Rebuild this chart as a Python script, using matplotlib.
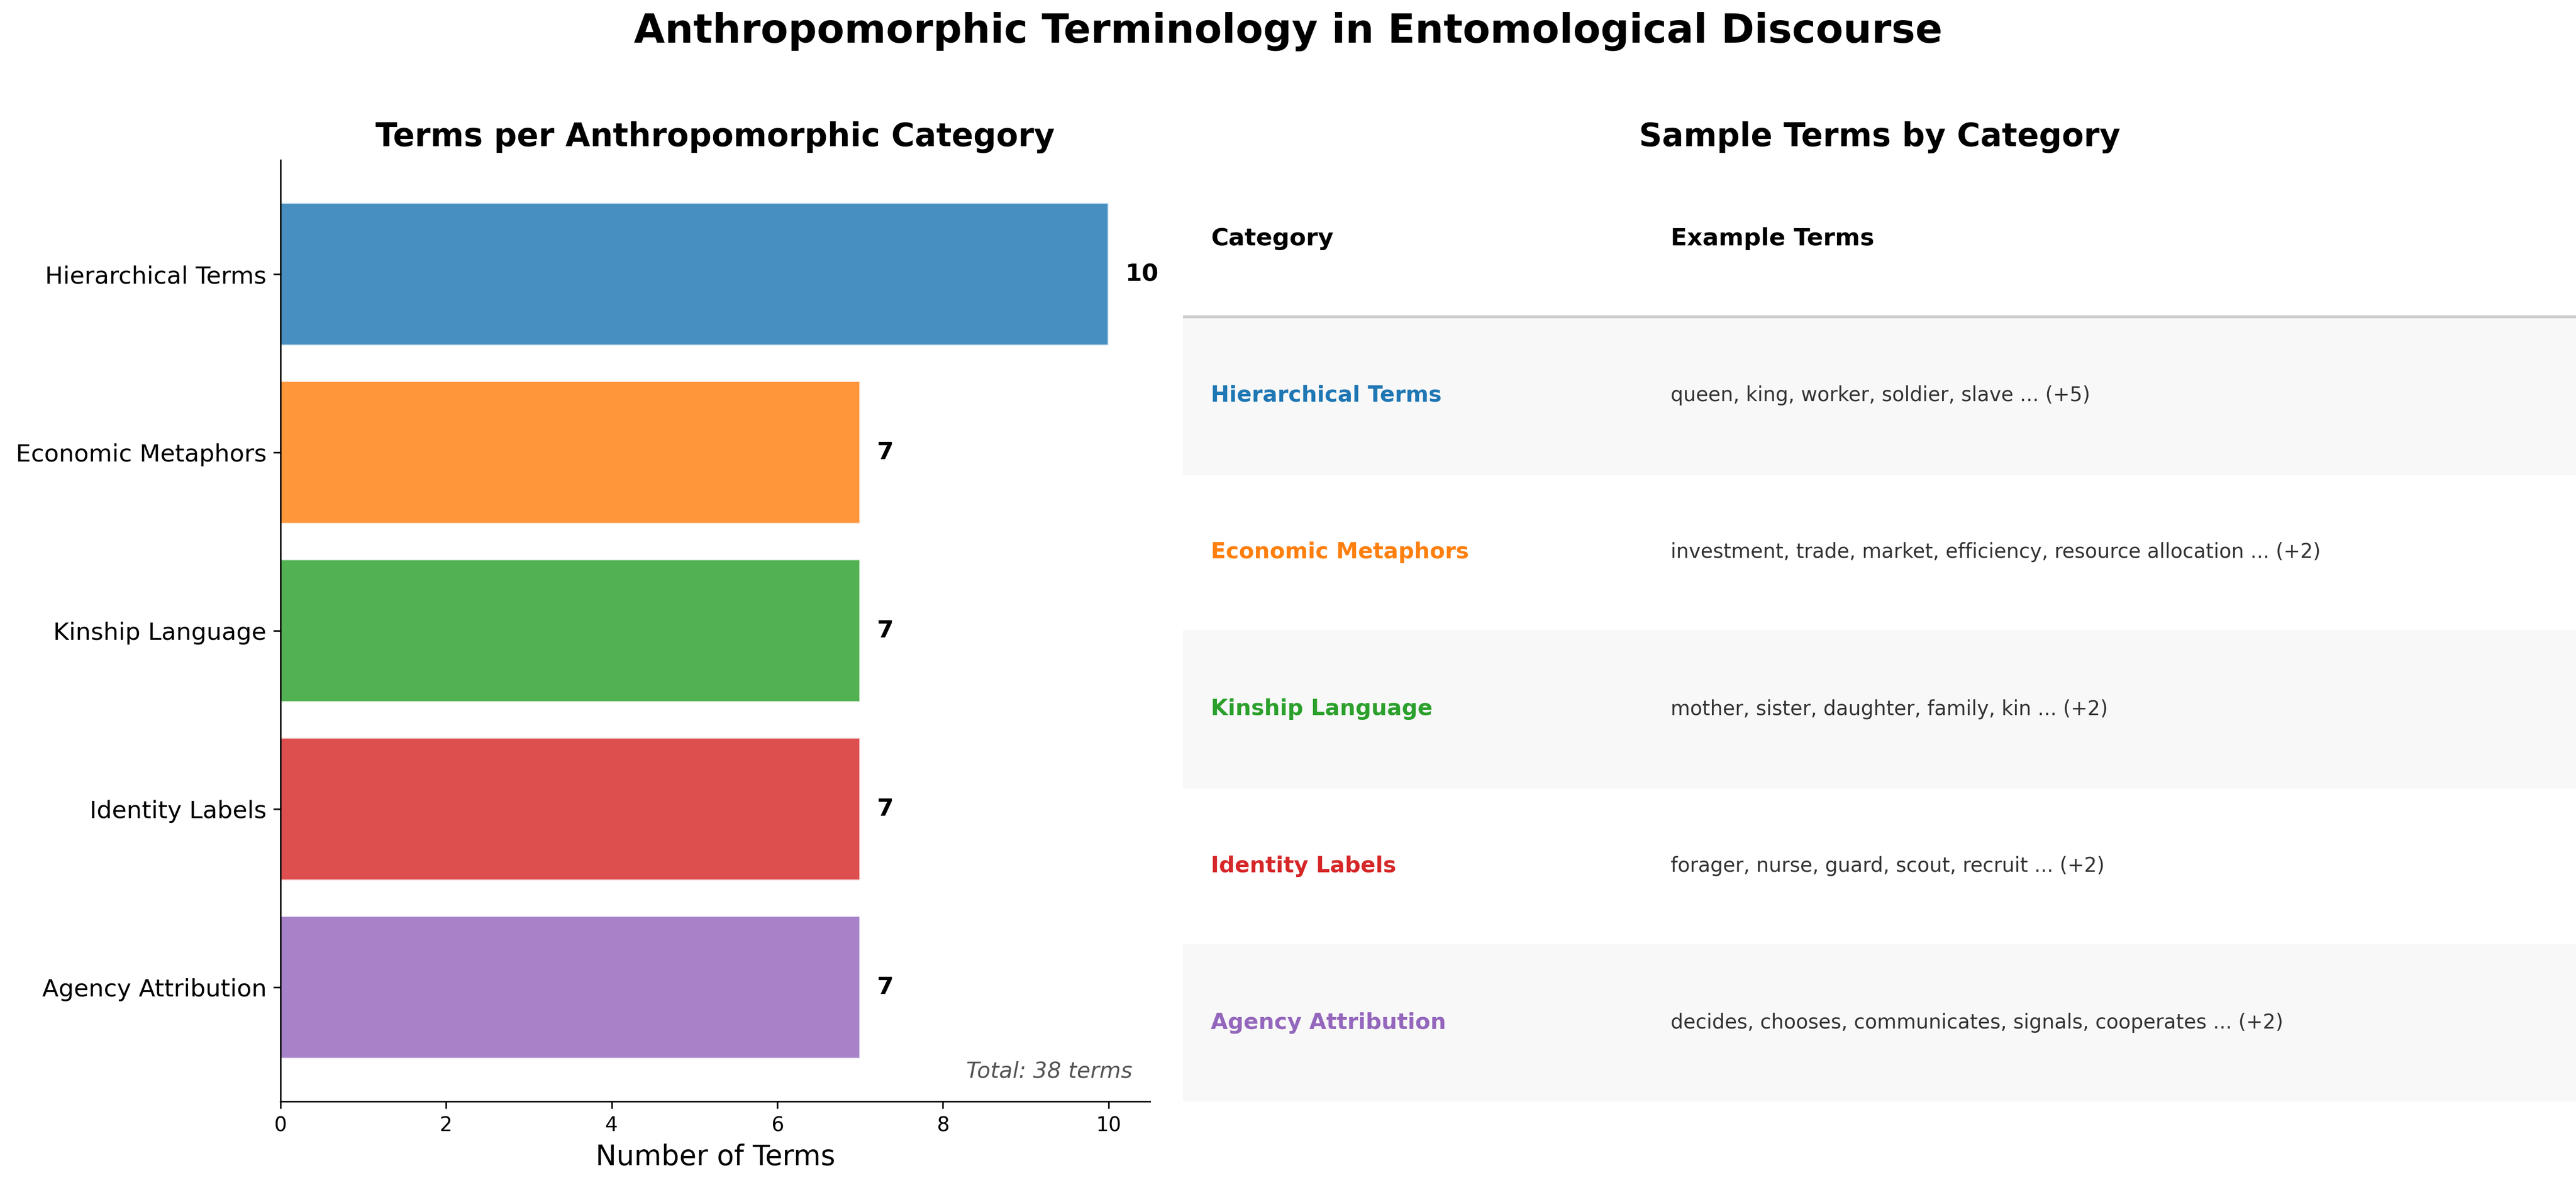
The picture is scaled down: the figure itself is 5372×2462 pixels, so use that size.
import matplotlib
matplotlib.use("Agg")
import matplotlib.pyplot as plt

categories = ["Hierarchical Terms", "Economic Metaphors", "Kinship Language",
              "Identity Labels", "Agency Attribution"]
counts = [10, 7, 7, 7, 7]
colors = ["#1f77b4", "#ff7f0e", "#2ca02c", "#d62728", "#9467bd"]
examples = [
    "queen, king, worker, soldier, slave ... (+5)",
    "investment, trade, market, efficiency, resource allocation ... (+2)",
    "mother, sister, daughter, family, kin ... (+2)",
    "forager, nurse, guard, scout, recruit ... (+2)",
    "decides, chooses, communicates, signals, cooperates ... (+2)",
]
x_ticks = [0, 2, 4, 6, 8, 10]

W, H = 5372, 2462
dpi = 300
fig = plt.figure(figsize=(W / dpi, H / dpi), dpi=dpi)

# Left: bar chart
ax = fig.add_axes([585 / W, 1 - 2298 / H, (2398 - 585) / W, (2298 - 334) / H])
ypos = list(range(len(categories)))
ax.barh(ypos, counts, height=0.8, color=colors, alpha=0.82,
        edgecolor="white", linewidth=1)
ax.set_yticks(ypos)
ax.set_yticklabels(categories, fontsize=12)
ax.invert_yaxis()
ax.set_xlim(0, max(counts) * 1.05)
ax.set_xticks(x_ticks)
ax.tick_params(axis="x", labelsize=10)
ax.set_xlabel("Number of Terms", fontsize=14)
ax.set_title("Terms per Anthropomorphic Category", fontsize=16,
             fontweight="bold", pad=7)
ax.spines["top"].set_visible(False)
ax.spines["right"].set_visible(False)
for y, v in zip(ypos, counts):
    ax.text(v + 0.2, y, str(v), va="center", ha="left", fontsize=12,
            fontweight="bold")
ax.text(0.98, 0.02, f"Total: {sum(counts)} terms", transform=ax.transAxes,
        ha="right", va="bottom", fontsize=11, style="italic", color="#555555")

# Right: table
ax2 = fig.add_axes([2467 / W, 1 - 2298 / H, (5372 - 2467) / W, (2298 - 334) / H])
n = len(categories)
ax2.set_xlim(0, 1)
ax2.set_ylim(0, n + 1)
ax2.axis("off")
ax2.set_title("Sample Terms by Category", fontsize=16, fontweight="bold", pad=7)
ax2.text(0.02, n + 0.5, "Category", fontsize=12, fontweight="bold",
         va="center", ha="left")
ax2.text(0.35, n + 0.5, "Example Terms", fontsize=12, fontweight="bold",
         va="center", ha="left")
ax2.axhline(n, color="#cccccc", linewidth=1.5)
for i, (cat, ex, c) in enumerate(zip(categories, examples, colors)):
    yc = n - i - 0.5
    if i % 2 == 0:
        ax2.axhspan(n - i - 1, n - i, color="#f8f8f8", zorder=0)
    ax2.text(0.02, yc, cat, fontsize=11, fontweight="bold", color=c,
             va="center", ha="left")
    ax2.text(0.35, yc, ex, fontsize=10, color="#333333", va="center", ha="left")

fig.suptitle("Anthropomorphic Terminology in Entomological Discourse",
             fontsize=20, fontweight="bold", y=0.990)

fig.savefig("out.png", dpi=dpi)
